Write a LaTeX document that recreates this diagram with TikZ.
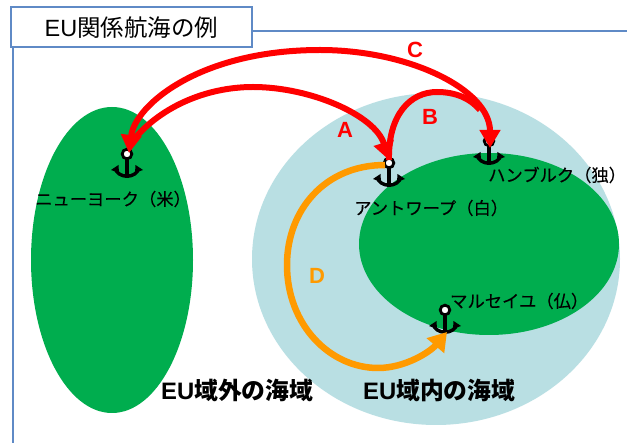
\documentclass[tikz,border=0pt]{standalone}
\usepackage{fontspec}
\setmainfont{Noto Sans CJK JP}
\newfontfamily\lat{Liberation Sans}
\newfontfamily\portfont[FakeBold=0.25]{Noto Sans CJK JP}
\usetikzlibrary{arrows.meta}
\definecolor{framec}{HTML}{5F8AC6}
\definecolor{land}{HTML}{00AD4E}
\definecolor{sea}{HTML}{B9DFE3}
\definecolor{router}{HTML}{FF0000}
\definecolor{routeo}{HTML}{FF9A00}
\tikzset{
 x=1pt,y=-1pt,
 frameline/.style={draw=framec,line width=2pt},
 redroute/.style={draw=router,line width=6pt},
 redtip/.style={redroute,-{Triangle[length=18pt,width=20pt]}},
 redboth/.style={redroute,{Triangle[length=18pt,width=20pt]}-{Triangle[length=18pt,width=20pt]}},
 orroute/.style={draw=routeo,line width=6.5pt,-{Triangle[length=18pt,width=22pt]}},
 portlabel/.style={font=\portfont\fontsize{17.3}{19}\selectfont,text=black,inner sep=0pt},
 sealabel/.style={font=\fontsize{23.8}{26}\selectfont\bfseries,text=black,inner sep=0pt},
 letterlabel/.style={font=\lat\fontsize{22}{24}\selectfont\bfseries,inner sep=0pt},
 anchorpic/.pic={
  \draw[black,line width=2.8pt,fill=white] (0,-21) circle (4.8);
  \draw[black,line width=4.4pt] (0,-15.5) -- (0,3);
  \draw[black,line width=3.4pt] (-12,-7) .. controls (-9,4) and (9,4) .. (12,-7);
  \fill[black] (-16,-5) -- (-8.5,-10) -- (-8,-2) -- cycle;
  \fill[black] (16,-5) -- (8.5,-10) -- (8,-2) -- cycle;
 }
}
\begin{document}
\begin{tikzpicture}
\useasboundingbox (0,0) rectangle (627,443);
\fill[white] (0,0) rectangle (627,443);
\draw[frameline] (13,443) -- (13,31) -- (627,31);
\node[frameline,fill=white,minimum width=241pt,minimum height=40pt,inner sep=0pt,anchor=center,font=\fontsize{23.5}{26}\selectfont] (title) at (131.5,27.5) {\lat EU\normalfont 関係航海の例};
\fill[land] (112,260) ellipse [x radius=81,y radius=153];
\fill[sea] (436,259) ellipse [x radius=184,y radius=166];
\fill[land] (489,244) ellipse [x radius=130,y radius=91];
\coordinate (ny) at (127,175);
\coordinate (an) at (389,184);
\coordinate (ha) at (489,162);
\coordinate (ma) at (445,331);
\pic at (ny) {anchorpic};
\pic at (an) {anchorpic};
\pic at (ha) {anchorpic};
\pic at (ma) {anchorpic};
\coordinate (nyt) at (129,153);
\coordinate (nya) at (131,143);
\coordinate (ant) at (389,160);
\coordinate (hat) at (490,148);
\coordinate (mat) at (447,332);
\coordinate (and) at (385,165);
\draw[redtip] (nya) .. controls (158,108) and (205,87) .. (253,87) .. controls (310,87) and (375,115) .. (ant);
\draw[redroute] (ant) .. controls (388,115) and (410,92) .. (437,92) .. controls (455,92) and (470,98) .. (480,110);
\draw[redboth] (nyt) .. controls (135,105) and (200,50) .. (320,50) .. controls (410,50) and (490,90) .. (hat);
\draw[orroute] (and) .. controls (325,165) and (287,210) .. (287,265) .. controls (287,325) and (330,368) .. (378,368) .. controls (405,368) and (430,352) .. (mat);
\node[portlabel,anchor=west] (nyl) at (35,199) {ニューヨーク（米）};
\node[portlabel,anchor=west] (anl) at (354,208) {アントワープ（白）};
\node[portlabel,anchor=west] (hal) at (488,175) {ハンブルク（独）};
\node[portlabel,anchor=west] (mal) at (450,301) {マルセイユ（仏）};
\node[sealabel,anchor=west] (out) at (161,390) {{\lat EU}域外の海域};
\node[sealabel,anchor=west] (in) at (363,390) {{\lat EU}域内の海域};
\node[letterlabel,text=router] (la) at (345,130) {A};
\node[letterlabel,text=router] (lb) at (430,117) {B};
\node[letterlabel,text=router] (lc) at (415,50) {C};
\node[letterlabel,text=routeo] (ld) at (317,276) {D};
\end{tikzpicture}
\end{document}
